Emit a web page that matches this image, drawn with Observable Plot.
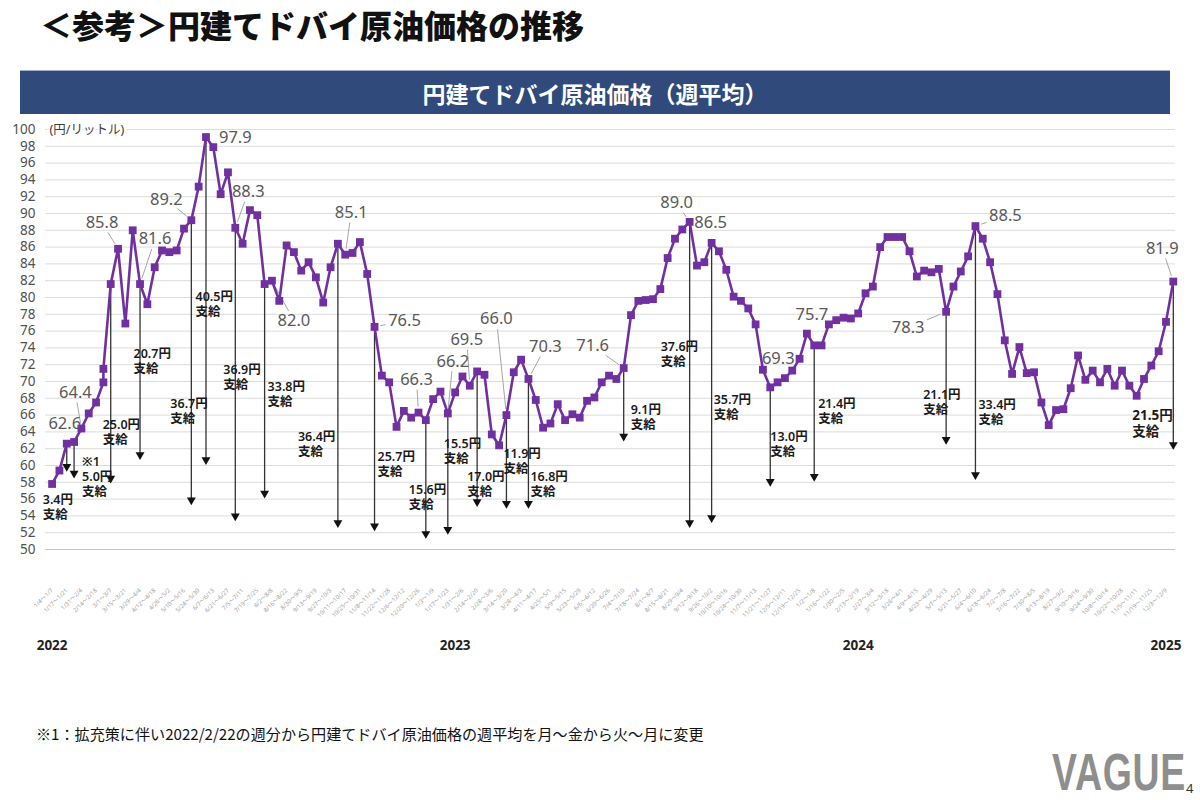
<!DOCTYPE html>
<html><head><meta charset="utf-8">
<script src="https://cdn.jsdelivr.net/npm/d3@7"></script>
<script src="https://cdn.jsdelivr.net/npm/@observablehq/plot@0.6"></script>
<style>
body{margin:0;background:#fff;}
#page{position:relative;width:1200px;height:800px;overflow:hidden;background:#fff;font-family:"Noto Sans CJK JP","Noto Sans",sans-serif;}
#title{position:absolute;left:40px;top:6px;line-height:36px;font-size:32px;font-weight:900;color:#111;white-space:nowrap;}
#banner{position:absolute;left:20px;top:70px;width:1150px;height:44px;background:#2F4A7B;color:#fff;font-size:23px;font-weight:700;display:flex;align-items:center;justify-content:center;border-top:1px solid #9fb0cc;box-sizing:border-box;}
#chart{position:absolute;left:0;top:115px;}
#note{position:absolute;left:36px;top:722px;line-height:22px;font-size:15.1px;color:#111;white-space:nowrap;}
#logo{position:absolute;left:1052px;top:742px;font-family:"Liberation Sans",sans-serif;font-weight:700;font-size:52px;color:#8e8e8e;transform:scaleX(0.72);transform-origin:left top;letter-spacing:1px;}
#pageno{position:absolute;left:1186px;top:780px;font-size:13px;line-height:16px;color:#333;font-family:"Noto Sans",sans-serif;}
</style></head><body><div id="page">
<div id="title">＜参考＞円建てドバイ原油価格の推移</div>
<div id="banner">円建てドバイ原油価格（週平均）</div>
<div id="chart"></div>
<div id="note">※1：拡充策に伴い2022/2/22の週分から円建てドバイ原油価格の週平均を月～金から火～月に変更</div>
<div id="logo">VAGUE</div>
<div id="pageno">4</div>
</div>
<script>
// ---------- data ----------
// weekly tick labels (every other week is labelled)
const weekTickLabels = [
  "1/4～1/7","1/17～1/21","1/31～2/4","2/14～2/18",
  "3/1～3/7","3/15～3/21","3/29～4/4","4/12～4/18","4/26～5/2","5/10～5/16","5/24～5/30","6/7～6/13","6/21～6/27","7/5～7/11","7/19～7/25","8/2～8/8","8/16～8/22","8/30～9/5","9/13～9/19","9/27～10/3","10/11～10/17","10/25～10/31","11/8～11/14","11/22～11/28","12/6～12/12","12/20～12/26",
  "1/3～1/9","1/17～1/23","1/31～2/6","2/14～2/20","2/28～3/6","3/14～3/20","3/28～4/3","4/11～4/17","4/25～5/1","5/9～5/15","5/23～5/29","6/6～6/12","6/20～6/26","7/4～7/10","7/18～7/24","8/1～8/7","8/15～8/21","8/29～9/4","9/12～9/18","9/26～10/2","10/10～10/16","10/24～10/30","11/7～11/13","11/21～11/27","12/5～12/11","12/19～12/25",
  "1/2～1/8","1/16～1/22","1/30～2/5","2/13～2/19","2/27～3/4","3/12～3/18","3/26～4/1","4/9～4/15","4/23～4/29","5/7～5/13","5/21～5/27","6/4～6/10","6/18～6/24","7/2～7/8","7/16～7/22","7/30～8/5","8/13～8/19","8/27～9/2","9/10～9/16","9/24～9/30","10/8～10/14","10/22～10/28","11/5～11/11","11/19～11/25","12/3～12/9"
];
const years = ["2022","2023","2024","2025"];
// weekly average price (円/リットル), one value per week
const prices = [
  57.8,59.4,62.6,62.8,64.4,66.2,67.5,69.9,81.6,85.8,
  76.9,88.0,81.6,79.2,83.6,85.6,85.4,85.6,88.2,89.2,
  93.2,99.1,97.9,92.3,94.9,88.3,86.4,90.4,89.8,81.6,
  82.0,79.6,86.2,85.4,83.2,84.2,82.4,79.4,83.6,86.4,
  85.1,85.3,86.6,82.8,76.5,70.7,69.9,64.6,66.5,65.7,
  66.3,65.4,67.9,68.8,66.2,68.7,70.6,69.5,71.2,70.8,
  63.7,62.4,66.0,71.1,72.6,70.3,67.8,64.5,65.0,67.3,
  65.4,66.1,65.7,67.7,68.1,69.9,70.7,70.3,71.6,77.9,
  79.6,79.7,79.8,81.0,84.7,87.0,88.1,89.0,83.8,84.2,
  86.5,85.5,83.3,80.1,79.6,78.7,76.8,71.4,69.3,69.9,
  70.4,71.3,72.7,75.7,74.3,74.3,76.8,77.3,77.6,77.5,
  78.1,80.5,81.3,86.0,87.2,87.2,87.2,85.5,82.5,83.2,
  83.0,83.4,78.3,81.3,83.1,84.9,88.5,87.0,84.2,80.4,
  74.9,70.9,74.1,71.0,71.1,67.5,64.8,66.6,66.7,69.2,
  73.1,70.2,71.3,69.9,71.5,69.5,71.3,69.5,68.3,70.3,
  71.9,73.6,77.1,81.9
];
// week with a second reading (change of averaging period, ※1)
const extraWeeks = [7];
const extraValues = [71.5];
// labelled prices (week index)
const calloutWeeks = [2,4,9,12,19,22,25,30,40,44,50,54,57,62,65,78,87,90,98,103,122,126,153];
// subsidy arrows
const subsidyWeeks   = [2,3,8,12,19,21,25,29,39,44,51,54,58,62,65,78,87,90,98,104,122,126,153];
const subsidyAmounts = [3.4,5.0,25.0,20.7,36.7,40.5,36.9,33.8,36.4,25.7,15.6,15.5,17.0,11.9,16.8,9.1,37.6,35.7,13.0,21.4,21.1,33.4,21.5];
const arrowEnds      = [59.4,58.6,58.0,60.8,55.4,60.2,53.5,56.2,52.7,52.3,51.4,51.9,55.2,55.0,55.0,63.0,52.7,53.3,57.6,58.2,62.6,58.4,62.0];
const subsidyNotes   = ["","※1","","","","","","","","","","","","","","","","","","","","",""];

// ---------- layout (pixels) ----------
const W = 1200, H = 545, mL = 45, mR = 25, mT = 14, mB = 111;
const xDom = [-0.9, 153.3], yDom = [50, 100];
const kx = (W - mL - mR) / (xDom[1] - xDom[0]);
const ky = (H - mT - mB) / (yDom[1] - yDom[0]);
const yearWeeks = [0, 55, 110, 152];
const calloutOffsets = [[-2,-20],[-6,-36],[-16,-26],[15,-45],[-25,-21],[22,-9],[13,-36],[22,40],[6,-42],[30,-6],[-2,-33],[5,-52],[-3,-46],[-10,-96],[17,-32],[-31,-22],[-13,-19],[-1,-20],[8,-29],[5,-19],[-38,16],[30,-10],[-11,-33]];
const calloutLeaders = [0,1,1,1,1,0,1,1,1,1,1,1,1,1,1,1,1,0,0,0,1,1,1];
const subsidyLabelOffsets = [[-24,23],[8,-22],[-8,-64],[-6.5,-111],[-21,-107],[-10.5,-173],[-12,-157],[3,-117],[-40,-96],[3,-80],[-17,-54],[-4,-96],[-10,-35],[-3,-60],[2,-37],[7,-37],[-29,-186],[2,-128],[0,-55],[4,-83],[-23,-55],[3,-81],[-41,-40]];

const numFont = '"Noto Sans","Noto Sans CJK JP",sans-serif';
const purple = "#7030A0";

// ---------- build ----------
const rows = prices.map((v, i) => ({week: i, price: v}));
extraWeeks.forEach((w, k) => {
  const pos = rows.findIndex(r => r.week === w) + 1;
  rows.splice(pos, 0, {week: w, price: extraValues[k]});
});
const tickWeeks = weekTickLabels.map((_, k) => 2 * k);
const arrows = subsidyWeeks.map((w, k) => ({week: w, top: prices[w], end: arrowEnds[k]}));

const leaders = [];
calloutWeeks.forEach((w, k) => {
  if (!calloutLeaders[k]) return;
  const [dx, dy] = calloutOffsets[k];
  const len = Math.hypot(dx, dy);
  const f = Math.min(dx ? 17 / Math.abs(dx) : Infinity, dy ? 8 / Math.abs(dy) : Infinity);
  const s = 1 - f - 2 / len;
  const e = 6 / len;
  if (s <= e) return;
  leaders.push({x1: w + dx * s / kx, y1: prices[w] - dy * s / ky, x2: w + dx * e / kx, y2: prices[w] - dy * e / ky});
});

const marks = [
  Plot.ruleY(d3.range(50, 101, 2), {stroke: "#dcdcdc", strokeWidth: 1}),
  Plot.ruleY([50], {stroke: "#c4c4c4", strokeWidth: 1}),
  Plot.axisY({ticks: d3.range(50, 101, 2), tickSize: 0, tickPadding: 10, fontSize: 13.5, color: "#505050", label: null}),
  Plot.axisX({ticks: tickWeeks, tickFormat: w => weekTickLabels[w / 2], tickRotate: -45, tickSize: 0, tickPadding: 40, fontSize: 6, color: "#a0a0a0", label: null}),
  Plot.text(["(円/リットル)"], {x: xDom[0], y: 100, dx: 4, textAnchor: "start", fontSize: 12.5, fill: "#404040", stroke: "#fff", strokeWidth: 5, fontFamily: numFont}),
  Plot.text(years, {x: (d, i) => yearWeeks[i], y: 50, dy: 96, text: d => d, fontSize: 13.5, fontWeight: "bold", fill: "#222", fontFamily: numFont}),
  Plot.ruleX(arrows, {x: "week", y1: "top", y2: "end", stroke: "#333", strokeWidth: 1.3}),
  Plot.dot(arrows, {x: "week", y: "end", symbol: "triangle", rotate: 180, r: 3.3, fill: "#111", stroke: null, dy: -4}),
  Plot.link(leaders, {x1: "x1", y1: "y1", x2: "x2", y2: "y2", stroke: "#a6a6a6", strokeWidth: 1}),
  Plot.line(rows, {x: "week", y: "price", stroke: purple, strokeWidth: 2.6}),
  Plot.dot(rows, {x: "week", y: "price", symbol: "square", r: 4.4, fill: purple, stroke: null})
];

calloutWeeks.forEach((w, k) => {
  const [dx, dy] = calloutOffsets[k];
  marks.push(Plot.text([w], {x: d => d, y: d => prices[d], text: d => prices[d].toFixed(1), dx, dy,
    fontSize: 16.5, fill: "#595959", fontFamily: numFont}));
});

subsidyWeeks.forEach((w, k) => {
  const [dx, dy] = subsidyLabelOffsets[k];
  const txt = (subsidyNotes[k] ? subsidyNotes[k] + "\n" : "") + subsidyAmounts[k].toFixed(1) + "円\n支給";
  const last = k === subsidyWeeks.length - 1;
  marks.push(Plot.text([k], {x: () => w, y: () => arrowEnds[k], text: () => txt, dx, dy,
    textAnchor: "start", lineAnchor: "top", lineHeight: 1.2,
    fontSize: last ? 13.5 : 12.5, fontWeight: last ? "bold" : 600, fill: "#1a1a1a", fontFamily: numFont}));
});

const chart = Plot.plot({
  width: W, height: H, marginLeft: mL, marginRight: mR, marginTop: mT, marginBottom: mB,
  x: {type: "linear", domain: xDom},
  y: {type: "linear", domain: yDom},
  style: {fontFamily: numFont, background: "transparent", overflow: "visible"},
  marks
});
document.getElementById("chart").appendChild(chart);
</script></body></html>
